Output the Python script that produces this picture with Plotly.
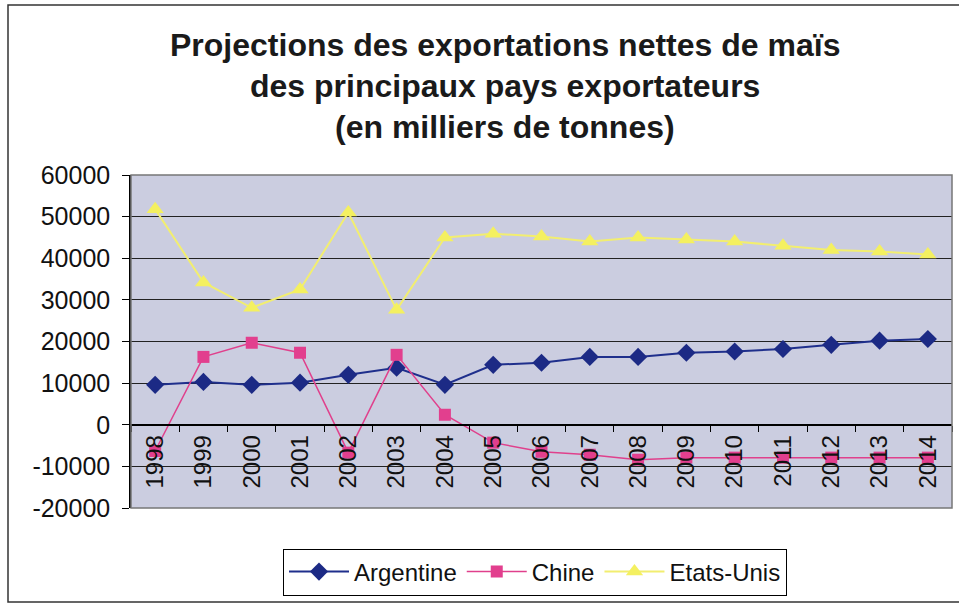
import plotly.graph_objects as go

# data (milliers de tonnes)
annees = [str(a) for a in range(1998, 2015)]
argentine = [9600, 10300, 9600, 10100, 12000, 13700, 9600, 14400, 14900,
             16300, 16300, 17300, 17600, 18200, 19200, 20200, 20600]
chine = [-6300, 16300, 19700, 17300, -6700, 16800, 2400, -4300, -6500,
         -7200, -8400, -7900, -7900, -7900, -7900, -7900, -7900]
etats_unis = [51800, 34200, 28100, 32500, 51000, 27600, 45000, 45900, 45200,
              44000, 45000, 44500, 44000, 43000, 42000, 41600, 40900]

# y tick labels, Excel style (plain hyphen)
y_ticks = [-20000, -10000, 0, 10000, 20000, 30000, 40000, 50000, 60000]
y_labels = ['-20000', '-10000', '0', '10000', '20000', '30000', '40000', '50000', '60000']

police = 'Liberation Sans, Arial, sans-serif'

fig = go.Figure()
fig.add_trace(go.Scatter(x=annees, y=argentine, name='Argentine', mode='lines+markers',
                         line=dict(color='#1f2f8c', width=2),
                         marker=dict(symbol='diamond', size=14, color='#1c2a85')))
fig.add_trace(go.Scatter(x=annees, y=chine, name='Chine', mode='lines+markers',
                         line=dict(color='#e0408c', width=1.5),
                         marker=dict(symbol='square', size=12, color='#e23f8e')))
fig.add_trace(go.Scatter(x=annees, y=etats_unis, name='Etats-Unis', mode='lines+markers',
                         line=dict(color='#f2ee70', width=2),
                         marker=dict(symbol='triangle-up', size=15, color='#f4f060')))

# titre sur trois lignes
titre = ['Projections des exportations nettes de maïs',
         'des principaux pays exportateurs',
         '(en milliers de tonnes)']
for i, t in enumerate(titre):
    fig.add_annotation(text='<b>' + t + '</b>', xref='paper', yref='paper',
                       x=(505 - 131) / 821, y=(508 - (45 + 41 * i)) / 333,
                       showarrow=False, xanchor='center', yanchor='middle',
                       font=dict(family=police, size=32, color='#1a1a1a'))

# cadre du graphique et de la zone de tracé
fig.add_shape(type='rect', xref='paper', yref='paper',
              x0=(8 - 131) / 821, x1=(965 - 131) / 821,
              y0=(508 - 602) / 333, y1=(508 - 5) / 333,
              line=dict(color='#333333', width=1.5), layer='below')
fig.add_shape(type='rect', xref='paper', yref='paper', x0=0, x1=1, y0=0, y1=1,
              line=dict(color='#777777', width=1.5))

fig.update_xaxes(type='category', range=[-0.5, 16.5], anchor='free', position=0.25,
                 showline=True, linecolor='black', linewidth=1.5,
                 ticks='outside', tickson='boundaries', ticklen=6, tickcolor='black',
                 tickangle=-90, showgrid=False, zeroline=False, automargin=False,
                 tickfont=dict(family=police, size=24, color='#111111'))
fig.update_yaxes(range=[-20000, 60000], tickvals=y_ticks, ticktext=y_labels,
                 showline=True, linecolor='black', linewidth=1.5, ticks='outside',
                 ticklen=7, tickcolor='black', showgrid=True, gridcolor='#222222',
                 gridwidth=1, zeroline=False, automargin=False, ticklabelstandoff=7,
                 tickfont=dict(family=police, size=25, color='#111111'))

fig.update_layout(width=959, height=604, paper_bgcolor='white', plot_bgcolor='#cbcde0',
                  margin=dict(l=131, r=7, t=175, b=96),
                  showlegend=True,
                  legend=dict(orientation='h', x=(535 - 131) / 821, xanchor='center',
                              y=(508 - 572) / 333, yanchor='middle',
                              bordercolor='black', borderwidth=1, bgcolor='white',
                              font=dict(family=police, size=24, color='#111111'),
                              itemwidth=60, tracegroupgap=0),
                  font=dict(family=police))

# no page margin so the figure sits at the window's top-left corner
fig.write_html('out.html', config={'displayModeBar': False},
               post_script="document.body.style.margin='0';document.body.style.overflow='hidden';")
